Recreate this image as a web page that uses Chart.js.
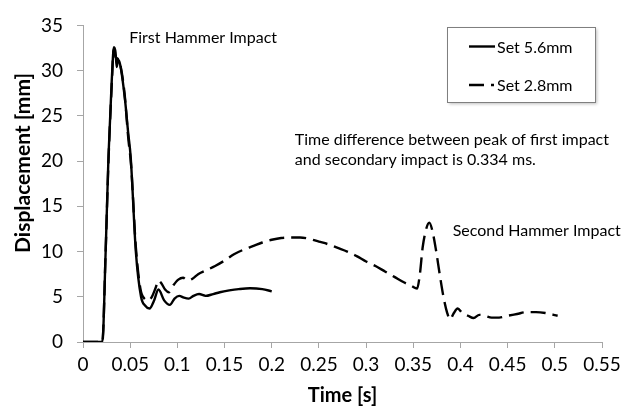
<!DOCTYPE html>
<html>
<head>
<meta charset="utf-8">
<script src="https://cdn.jsdelivr.net/npm/chart.js@4.4.0/dist/chart.umd.min.js"></script>
<style>
  html, body { margin: 0; padding: 0; background: #fff; }
  #wrap { width: 635px; height: 409px; }
</style>
</head>
<body>
<div id="wrap"><canvas id="chart" width="635" height="409"></canvas></div>
<script>
// Serie "Set 5.6mm" (linea continua)
const timeSet56 = [0, 0.0205, 0.024, 0.027, 0.0305, 0.0328, 0.0345, 0.0357, 0.0372, 0.0395, 0.0445, 0.048, 0.0505,
  0.056, 0.0615, 0.066, 0.0705, 0.075, 0.080, 0.086, 0.092, 0.097, 0.102, 0.107, 0.112, 0.117, 0.123, 0.130,
  0.138, 0.145, 0.155, 0.165, 0.177, 0.190, 0.200];
const dispSet56 = [0, 0, 10, 20.5, 29, 32.6, 32.0, 30.4, 31.2, 30.6, 26.8, 23, 20.5,
  10, 5, 4.0, 3.7, 4.5, 5.8, 4.6, 4.1, 4.8, 5.1, 4.9, 4.8, 5.1, 5.3, 5.1,
  5.3, 5.5, 5.7, 5.85, 5.95, 5.85, 5.6];

// Serie "Set 2.8mm" (linea tratteggiata)
const timeSet28 = [0, 0.0205, 0.024, 0.027, 0.0305, 0.0325, 0.0345, 0.037, 0.040, 0.044, 0.048, 0.051, 0.056,
  0.061, 0.065, 0.069, 0.073, 0.077, 0.080, 0.083, 0.087, 0.091, 0.096, 0.101, 0.106, 0.111, 0.116, 0.122,
  0.130, 0.140, 0.150, 0.160, 0.170, 0.180, 0.190, 0.200, 0.210, 0.220, 0.230, 0.240, 0.250, 0.260, 0.270,
  0.280, 0.290, 0.300, 0.310, 0.320, 0.330, 0.340, 0.348, 0.354, 0.357, 0.360, 0.364, 0.367, 0.370, 0.374,
  0.378, 0.382, 0.386, 0.389, 0.393, 0.397, 0.402, 0.408, 0.414, 0.420, 0.426, 0.433, 0.441, 0.450, 0.460,
  0.470, 0.480, 0.490, 0.503];
const dispSet28 = [0, 0, 10, 20, 28.5, 32.3, 31.5, 31.3, 30.4, 27.5, 22.5, 19.5, 10.5,
  5.8, 4.8, 4.6, 5.0, 6.0, 6.8, 6.5, 5.8, 5.5, 6.3, 6.9, 7.1, 6.8, 7.0, 7.5,
  7.9, 8.4, 9.0, 9.7, 10.2, 10.6, 11.0, 11.3, 11.5, 11.55, 11.55, 11.4, 11.1, 10.8, 10.4,
  10.0, 9.5, 8.9, 8.4, 7.8, 7.2, 6.6, 6.2, 5.9, 7.5, 10.5, 12.6, 13.2, 12.4, 10.2,
  7.5, 5.0, 3.2, 2.5, 3.2, 3.7, 3.2, 2.9, 2.65, 3.0, 2.9, 2.7, 2.7, 2.9, 3.1,
  3.3, 3.3, 3.2, 2.9];

const seriesNames = ['Set 5.6mm', 'Set 2.8mm'];
const xTickValues = [0, 0.05, 0.1, 0.15, 0.2, 0.25, 0.3, 0.35, 0.4, 0.45, 0.5, 0.55];
const yTickValues = [0, 5, 10, 15, 20, 25, 30, 35];
const xTitle = 'Time [s]';
const yTitle = 'Displacement [mm]';

// Note di testo (posizione in coordinate dati)
const notes = [
  { text: 'First Hammer Impact', x: 0.049, y: 33.04 },
  { text: 'Time difference between peak of first impact', x: 0.2245, y: 21.73 },
  { text: 'and secondary impact is 0.334 ms.', x: 0.2245, y: 19.55 },
  { text: 'Second Hammer Impact', x: 0.3918, y: 11.67 }
];

const FONT = 'Lato, "Open Sans", sans-serif';
const toPoints = (xs, ys) => xs.map((x, i) => ({ x: x, y: ys[i] }));

const decorPlugin = {
  id: 'decor',
  afterDraw(chart) {
    const ctx = chart.ctx;
    const xs = chart.scales.x, ys = chart.scales.y;
    ctx.save();

    // titolo asse Y
    ctx.fillStyle = '#000';
    ctx.font = 'bold 21px ' + FONT;
    ctx.textAlign = 'center';
    ctx.textBaseline = 'middle';
    ctx.translate(23, 163);
    ctx.rotate(-Math.PI / 2);
    ctx.fillText(yTitle, 0, 0);
    ctx.setTransform(1, 0, 0, 1, 0, 0);

    // note
    ctx.font = '16px ' + FONT;
    ctx.textAlign = 'left';
    ctx.textBaseline = 'alphabetic';
    notes.forEach(n => {
      ctx.fillText(n.text, xs.getPixelForValue(n.x), ys.getPixelForValue(n.y));
    });

    // legenda
    const box = { x: 447, y: 27, w: 148, h: 75 };
    ctx.save();
    ctx.shadowColor = 'rgba(0,0,0,0.25)';
    ctx.shadowBlur = 3;
    ctx.shadowOffsetX = 2;
    ctx.shadowOffsetY = 2;
    ctx.fillStyle = '#fff';
    ctx.fillRect(box.x, box.y, box.w, box.h);
    ctx.restore();
    ctx.strokeStyle = '#7f7f7f';
    ctx.lineWidth = 1;
    ctx.strokeRect(box.x + 0.5, box.y + 0.5, box.w, box.h);

    const rows = [46.5, 85];
    chart.data.datasets.forEach((ds, i) => {
      const yy = rows[i];
      ctx.beginPath();
      ctx.strokeStyle = ds.borderColor;
      ctx.lineWidth = ds.borderWidth;
      ctx.setLineDash(ds.borderDash || []);
      ctx.moveTo(469, yy);
      ctx.lineTo(ds.borderDash ? 494 : 495, yy);
      ctx.stroke();
      ctx.setLineDash([]);
      ctx.fillStyle = '#000';
      ctx.font = '16px ' + FONT;
      ctx.textBaseline = 'middle';
      ctx.fillText(ds.label, 497, yy + 1);
    });
    ctx.restore();
  }
};

new Chart(document.getElementById('chart').getContext('2d'), {
  type: 'line',
  data: {
    datasets: [
      {
        label: seriesNames[0],
        data: toPoints(timeSet56, dispSet56),
        borderColor: '#000',
        borderWidth: 2.4,
        pointRadius: 0,
        cubicInterpolationMode: 'monotone',
        fill: false
      },
      {
        label: seriesNames[1],
        data: toPoints(timeSet28, dispSet28),
        borderColor: '#000',
        borderWidth: 2.4,
        borderDash: [15, 7],
        pointRadius: 0,
        cubicInterpolationMode: 'monotone',
        fill: false
      }
    ]
  },
  options: {
    responsive: false,
    animation: false,
    devicePixelRatio: 1,
    layout: { padding: { left: 0, right: 33, top: 21, bottom: 0 } },
    plugins: {
      legend: { display: false },
      tooltip: { enabled: false }
    },
    scales: {
      x: {
        type: 'linear',
        min: 0,
        max: 0.55,
        afterBuildTicks: s => { s.ticks = xTickValues.map(v => ({ value: v })); },
        afterFit: s => { s.height = 67; },
        ticks: {
          color: '#000',
          font: { family: FONT, size: 19 },
          padding: 5,
          maxRotation: 0,
          callback: v => String(+v.toFixed(2))
        },
        grid: { drawOnChartArea: false, drawTicks: true, tickLength: 6, color: '#a6a6a6' },
        border: { display: true, color: '#a6a6a6' },
        title: {
          display: true,
          text: xTitle,
          color: '#000',
          font: { family: FONT, size: 20, weight: 'bold' },
          padding: { top: 0, bottom: 1 }
        }
      },
      y: {
        min: 0,
        max: 35,
        afterBuildTicks: s => { s.ticks = yTickValues.map(v => ({ value: v })); },
        afterFit: s => { s.width = 83; },
        ticks: {
          color: '#000',
          font: { family: FONT, size: 19 },
          padding: 14
        },
        grid: { drawOnChartArea: false, drawTicks: true, tickLength: 6, color: '#a6a6a6' },
        border: { display: true, color: '#a6a6a6' }
      }
    }
  },
  plugins: [decorPlugin]
});
</script>
</body>
</html>
